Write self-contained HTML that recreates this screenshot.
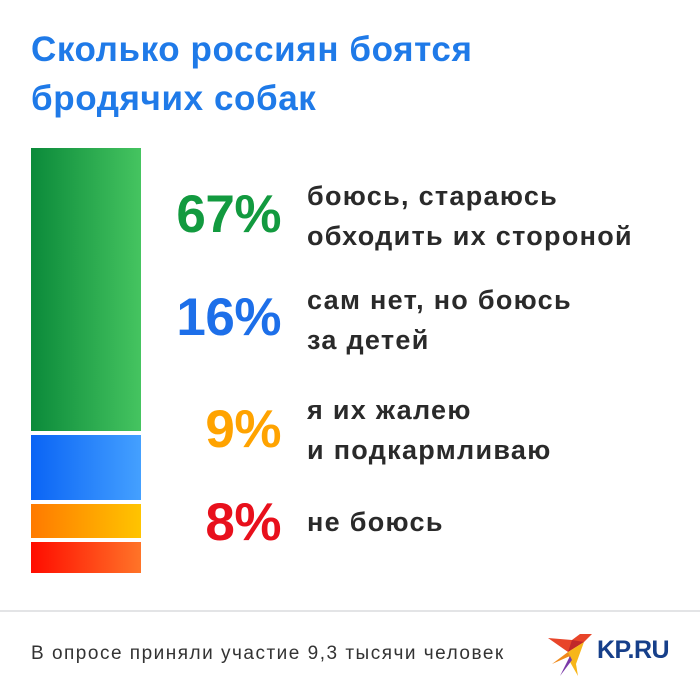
<!DOCTYPE html>
<html><head><meta charset="utf-8"><style>
body{margin:0;width:700px;height:700px;background:#fff;font-family:"Liberation Sans",sans-serif;position:relative;overflow:hidden}
.t{position:absolute;left:31px;top:25px;color:#1f7ae8;font-size:35px;font-weight:bold;line-height:49px;letter-spacing:0.6px}
.b{position:absolute;left:31px;width:110px}
.p{position:absolute;right:419px;font-size:53px;font-weight:900;letter-spacing:-0.5px;line-height:56px}
.l{position:absolute;left:307px;font-size:27px;font-weight:bold;color:#2a2a2a;line-height:40px;letter-spacing:1.3px}
</style></head><body>
<div class="t">Сколько россиян боятся<br>бродячих собак</div>
<div class="b" style="top:148px;height:283px;background:linear-gradient(90deg,#0b8a3a,#45c460)"></div>
<div class="b" style="top:435px;height:65px;background:linear-gradient(90deg,#0a64f5,#44a0ff)"></div>
<div class="b" style="top:504px;height:34px;background:linear-gradient(90deg,#ff7a00,#ffc400)"></div>
<div class="b" style="top:542px;height:31px;background:linear-gradient(90deg,#ff0c00,#ff7428)"></div>
<div class="p" style="top:187px;color:#129a3f">67%</div>
<div class="l" style="top:176px">боюсь, стараюсь<br>обходить их стороной</div>
<div class="p" style="top:290px;color:#1d6fe9">16%</div>
<div class="l" style="top:280px">сам нет, но боюсь<br>за детей</div>
<div class="p" style="top:402px;color:#ffa300">9%</div>
<div class="l" style="top:390px">я их жалею<br>и подкармливаю</div>
<div class="p" style="top:495px;color:#e8101c">8%</div>
<div class="l" style="top:502px">не боюсь</div>
<div style="position:absolute;left:0;right:0;top:610px;height:2px;background:#e3e4e6"></div>
<div style="position:absolute;left:31px;top:643px;font-size:19px;color:#333;letter-spacing:1.5px">В опросе приняли участие 9,3 тысячи человек</div>
<svg style="position:absolute;left:548px;top:634px" width="46" height="44" viewBox="0 0 46 44">
<polygon points="0,4 24,6 32,0 44,0 36,8 20,18" fill="#e8452a"/>
<polygon points="24,6 36,8 20,18" fill="#c0282a"/>
<polygon points="20,18 36,8 28,30 30,42 22,28" fill="#f7b61a"/>
<polygon points="20,18 4,30 22,22" fill="#f08a1a"/>
<polygon points="22,22 12,42 24,26" fill="#7a3aa8"/>
</svg>
<div style="position:absolute;left:597px;top:636px;font-size:25px;font-weight:900;color:#163f8a;letter-spacing:-0.5px">KP.RU</div>
</body></html>
